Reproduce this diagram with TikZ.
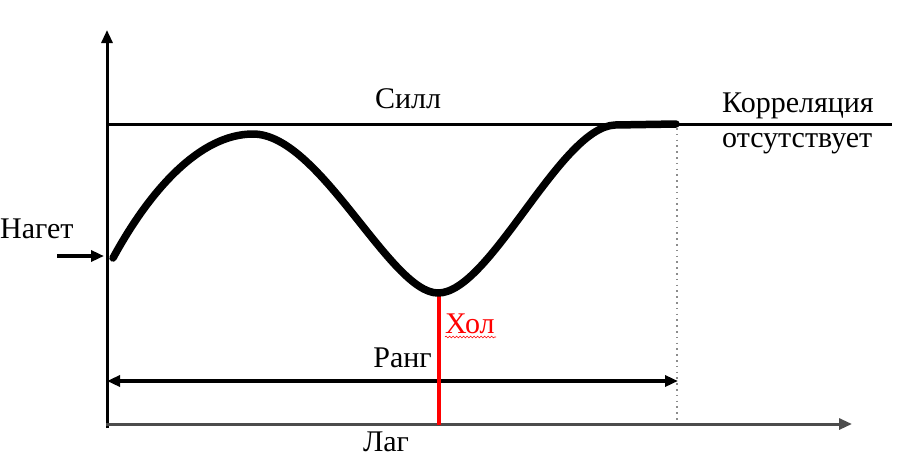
\documentclass[tikz,border=0pt]{standalone}
\usepackage{fontspec}
\setmainfont{Liberation Serif}
\usetikzlibrary{arrows.meta,decorations.pathmorphing}
\tikzset{
  lbl/.style={inner sep=0pt, font=\fontsize{30}{34}\selectfont},
  tip/.style={-{Triangle[length=13pt,width=11pt]}},
  axisline/.style={line width=3pt},
  curveline/.style={line width=7.5pt, line cap=round, line join=round},
}
\begin{document}
\begin{tikzpicture}[x=1pt,y=-1pt]
\useasboundingbox (0,0) rectangle (899,459);
% axes
\coordinate (ybot) at (107,428);
\coordinate (ytop) at (107,30);
\coordinate (xstart) at (106,424);
\coordinate (xend) at (852,424);
\draw[axisline, tip] (ybot) -- (ytop);
\draw[axisline, black!70, tip] (xstart) -- (xend);
% sill line
\coordinate (sillL) at (107,124);
\coordinate (sillR) at (892,124);
\draw[axisline] (sillL) -- (sillR);
% dotted range limit
\coordinate (dotT) at (677,128);
\coordinate (dotB) at (677,423);
\draw[black!45, line width=1.6pt, dash pattern=on 1.6pt off 4.2pt] (dotT) -- (dotB);
% range arrow
\coordinate (rL) at (107,381);
\coordinate (rR) at (678,381);
\draw[line width=3.5pt, {Triangle[length=13pt,width=11pt]}-{Triangle[length=13pt,width=11pt]}] (rL) -- (rR);
% nugget arrow
\coordinate (nA) at (57,256);
\coordinate (nB) at (104,256);
\draw[line width=3.5pt, tip] (nA) -- (nB);
% hole line
\coordinate (hT) at (439,294);
\coordinate (hB) at (439,425);
\draw[red, line width=4pt] (hT) -- (hB);
% variogram curve
\coordinate (c0) at (113,258);
\coordinate (cpeak) at (253,134);
\coordinate (cmin) at (438,293);
\coordinate (cflat) at (615,125);
\coordinate (cend) at (676,124);
\draw[curveline] (c0) .. controls (150,190) and (200,134) .. (cpeak)
  .. controls (320,134) and (390,293) .. (cmin)
  .. controls (490,293) and (560,127) .. (cflat) -- (cend);
% labels
\node[lbl, anchor=base] (sill) at (408,108) {Силл};
\node[lbl, anchor=base west] (corr1) at (722,112) {Корреляция};
\node[lbl, anchor=base west] (corr2) at (722,147) {отсутствует};
\node[lbl, anchor=base west] (nug) at (0,238) {Нагет};
\node[lbl, anchor=base east] (rang) at (432,367) {Ранг};
\node[lbl, anchor=base west, text=red] (hol) at (445,333) {Хол};
\draw[red, line width=0.6pt, decorate, decoration={snake, amplitude=0.9pt, segment length=3.5pt}] (hol.base west) ++(0,4) -- ++(51,0);
\node[lbl, anchor=base] (lag) at (386,451) {Лаг};
\end{tikzpicture}
\end{document}
